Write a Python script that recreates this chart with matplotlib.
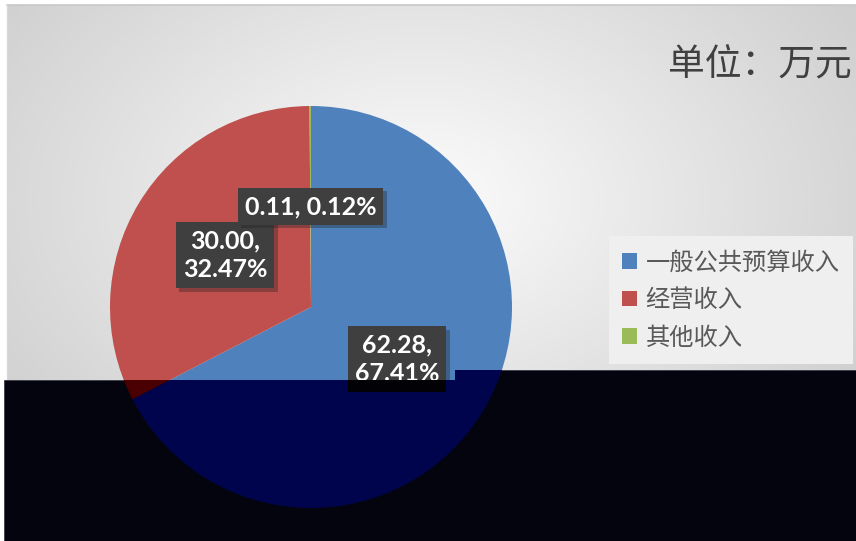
import numpy as np
import matplotlib
matplotlib.use("Agg")
import matplotlib.pyplot as plt
from matplotlib.patches import Polygon, Rectangle
from matplotlib.path import Path
import matplotlib.patheffects as pe

plt.rcParams['font.family'] = ['Noto Sans CJK SC', 'DejaVu Sans']

categories = ['一般公共预算收入', '经营收入', '其他收入']
values = [62.28, 30.00, 0.11]
percents = ['67.41%', '32.47%', '0.12%']
colors = ['#4F81BD', '#C0504D', '#9BBB59']
dark_colors = ['#00044c', '#4a0000', '#1c2a08']
title = '单位：万元'

W, H = 856, 541
fig = plt.figure(figsize=(W / 100, H / 100), dpi=100)
fig.patch.set_facecolor('white')

def fx(px):
    return px / W

def fy(py):
    return 1 - py / H

# background gradient (chart area)
bg = fig.add_axes([fx(7), 0, 1 - fx(7), fy(5)])
bg.set_axis_off()
yy, xx = np.mgrid[5:H, 7:W]
d = np.sqrt(((xx - 420) / 440.0) ** 2 + ((yy - 200) / 300.0) ** 2)
val = np.clip(252 - 38 * d, 195, 255) / 255.0
img = np.dstack([val, val, val])
bg.imshow(img, aspect='auto', extent=[0, 1, 0, 1], interpolation='bilinear')
bg.set_xlim(0, 1)
bg.set_ylim(0, 1)
fig.add_artist(plt.Line2D([fx(7), 1], [fy(5), fy(5)], color='#c8c8c8', lw=1.2))
fig.add_artist(plt.Line2D([fx(7), fx(7)], [fy(5), 0], color='#d8d8d8', lw=1.0))

# pie axes
cx, cy, r = 311, 307, 201
pie_rect = [fx(cx - r), fy(cy + r), 2 * r / W, 2 * r / H]
ax = fig.add_axes(pie_rect)
wedges, _ = ax.pie(values, colors=colors, startangle=90, counterclock=False,
                   radius=1.0, wedgeprops=dict(linewidth=0))
ax.set_xlim(-1, 1)
ax.set_ylim(-1, 1)
ax.set_axis_off()

total = sum(values)
labels_txt = [f'{values[0]:.2f},\n{percents[0]}', f'{values[1]:.2f},\n{percents[1]}',
              f'{values[2]:.2f}, {percents[2]}']
cum = 0.0
label_pos = []
for v in values:
    mid = (cum + v / 2) / total * 2 * np.pi
    cum += v
    label_pos.append((0.5 * np.sin(mid), 0.5 * np.cos(mid)))

for (lx, ly), t in zip(label_pos, labels_txt):
    txt = ax.text(lx, ly, t, ha='center', va='center', color='white',
                  fontsize=18, fontweight='bold', family=['Lato', 'DejaVu Sans'],
                  linespacing=1.32, zorder=5,
                  bbox=dict(boxstyle='square,pad=0.28', facecolor='#3f3f3f', edgecolor='none'))
    txt.get_bbox_patch().set_path_effects(
        [pe.SimplePatchShadow(offset=(2.5, -2.5), shadow_rgbFace='#202020', alpha=0.35), pe.Normal()])

# legend
leg_handles = [Rectangle((0, 0), 1, 1, facecolor=c, edgecolor='none') for c in colors]
leg = fig.legend(leg_handles, categories, loc='upper left',
                 bbox_to_anchor=(fx(609), fy(236)), frameon=True,
                 fontsize=17.5, handlelength=0.6, handleheight=0.6,
                 handletextpad=0.35, labelspacing=0.48, borderpad=0.55,
                 borderaxespad=0, fancybox=False, framealpha=1.0)
leg.get_frame().set_facecolor('#efefef')
leg.get_frame().set_edgecolor('none')
for t in leg.get_texts():
    t.set_color('#595959')

# title
fig.text(fx(668), fy(65), title, ha='left', va='center', fontsize=26.5,
         color='#404040', fontweight='medium')

# dark overlay region
ov = fig.add_axes([0, 0, 1, 1], zorder=10)
ov.set_xlim(0, W)
ov.set_ylim(H, 0)
ov.set_axis_off()
ov.patch.set_alpha(0)
poly_pts = [(4, H), (4, 380), (455, 380), (455, 370), (W, 370), (W, H), (4, H)]
ov.add_patch(Polygon(poly_pts[:-1], closed=True, facecolor='#04040f',
                     edgecolor='#3a3a4a', lw=0.6))

ax2 = fig.add_axes(pie_rect, zorder=11)
ax2.patch.set_alpha(0)
w2, _ = ax2.pie(values, colors=dark_colors, startangle=90, counterclock=False,
                radius=1.0, wedgeprops=dict(linewidth=0))
ax2.set_xlim(-1, 1)
ax2.set_ylim(-1, 1)
ax2.set_axis_off()
clip_path = Path(poly_pts, closed=True)
for w in w2:
    w.set_clip_on(True)
    w.set_clip_path(clip_path, ov.transData)
lx, ly = label_pos[0]
t2 = ax2.text(lx, ly, labels_txt[0], ha='center', va='center', color='none',
              fontsize=18, fontweight='bold', family=['Lato', 'DejaVu Sans'],
              linespacing=1.32, zorder=5,
              bbox=dict(boxstyle='square,pad=0.28', facecolor='#020206', edgecolor='none'))
bp = t2.get_bbox_patch()
bp.set_clip_on(True)
bp.set_clip_path(clip_path, ov.transData)

fig.savefig('out.png', dpi=100)
